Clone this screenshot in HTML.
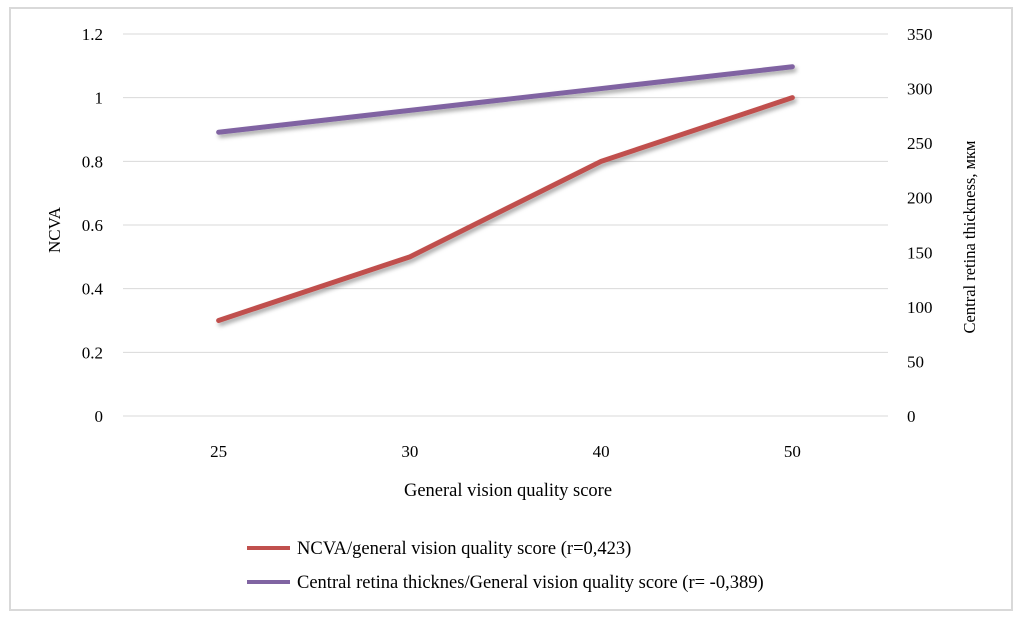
<!DOCTYPE html>
<html><head><meta charset="utf-8"><style>
html,body{margin:0;padding:0;background:#fff;width:1021px;height:620px;overflow:hidden}
svg text{font-family:"Liberation Serif",serif;fill:#000}
</style></head><body>
<svg width="1021" height="620">
<defs><filter id="sh" x="-10%" y="-50%" width="120%" height="200%"><feDropShadow dx="2" dy="3" stdDeviation="2" flood-color="#000" flood-opacity="0.35"/></filter></defs>
<rect x="10" y="8" width="1002" height="602" fill="#fff" stroke="#d9d9d9" stroke-width="2"/>
<g id="grid"></g><g id="yl"></g><g id="yr"></g><g id="xl"></g><g id="series"></g>
<text x="60" y="230" font-size="17" text-anchor="middle" transform="rotate(-90 60 230)">NCVA</text>
<text x="975" y="237" font-size="16.5" text-anchor="middle" transform="rotate(-90 975 237)">Central retina thickness, мкм</text>
<text x="508" y="496" font-size="18.5" text-anchor="middle">General vision quality score</text>
<g>
<line x1="247" y1="548" x2="290" y2="548" stroke="#c0504d" stroke-width="4"/>
<text x="297" y="554" font-size="18.5">NCVA/general vision quality score (r=0,423)</text>
<line x1="247" y1="582" x2="290" y2="582" stroke="#8064a2" stroke-width="4"/>
<text x="297" y="588" font-size="18.5">Central retina thicknes/General vision quality score (r= -0,389)</text>
</g>
</svg>
<script>
const categories=["25","30","40","50"];
const ncva=[0.3,0.5,0.8,1.0];
const thickness=[260,280,300,320];
const leftTicks=[0,0.2,0.4,0.6,0.8,1,1.2];
const rightTicks=[0,50,100,150,200,250,300,350];
const NS="http://www.w3.org/2000/svg";
const L=123,R=888,T=34,B=416;
const yL=v=>B-(v/1.2)*(B-T);
const yR=v=>B-(v/350)*(B-T);
const x=i=>L+(i+0.5)*(R-L)/categories.length;
function mk(tag,attrs,parent,txt){const e=document.createElementNS(NS,tag);for(const k in attrs)e.setAttribute(k,attrs[k]);if(txt!==undefined)e.textContent=txt;document.getElementById(parent).appendChild(e);return e;}
leftTicks.forEach(v=>{
 const g=mk("line",{x1:L,x2:R,y1:yL(v),y2:yL(v),stroke:"#d9d9d9","stroke-width":1},"grid");
 
 
 const t=mk("text",{x:103,y:yL(v)+6,"font-size":17,"text-anchor":"end"},"yl",String(v));
 
 
});
rightTicks.forEach(v=>{
 const t=mk("text",{x:907,y:yR(v)+6,"font-size":17},"yr",String(v));
 
 
});
categories.forEach((c,i)=>{
 const t=mk("text",{x:x(i),y:457,"font-size":17,"text-anchor":"middle"},"xl",c);
 
 
});
const p1=mk("polyline",{points:ncva.map((v,i)=>x(i)+","+yL(v)).join(" "),fill:"none",stroke:"#c0504d","stroke-width":5,"stroke-linecap":"round","stroke-linejoin":"round",filter:"url(#sh)"},"series");


const p2=mk("polyline",{points:thickness.map((v,i)=>x(i)+","+yR(v)).join(" "),fill:"none",stroke:"#8064a2","stroke-width":5,"stroke-linecap":"round","stroke-linejoin":"round",filter:"url(#sh)"},"series");


</script>
</body></html>
